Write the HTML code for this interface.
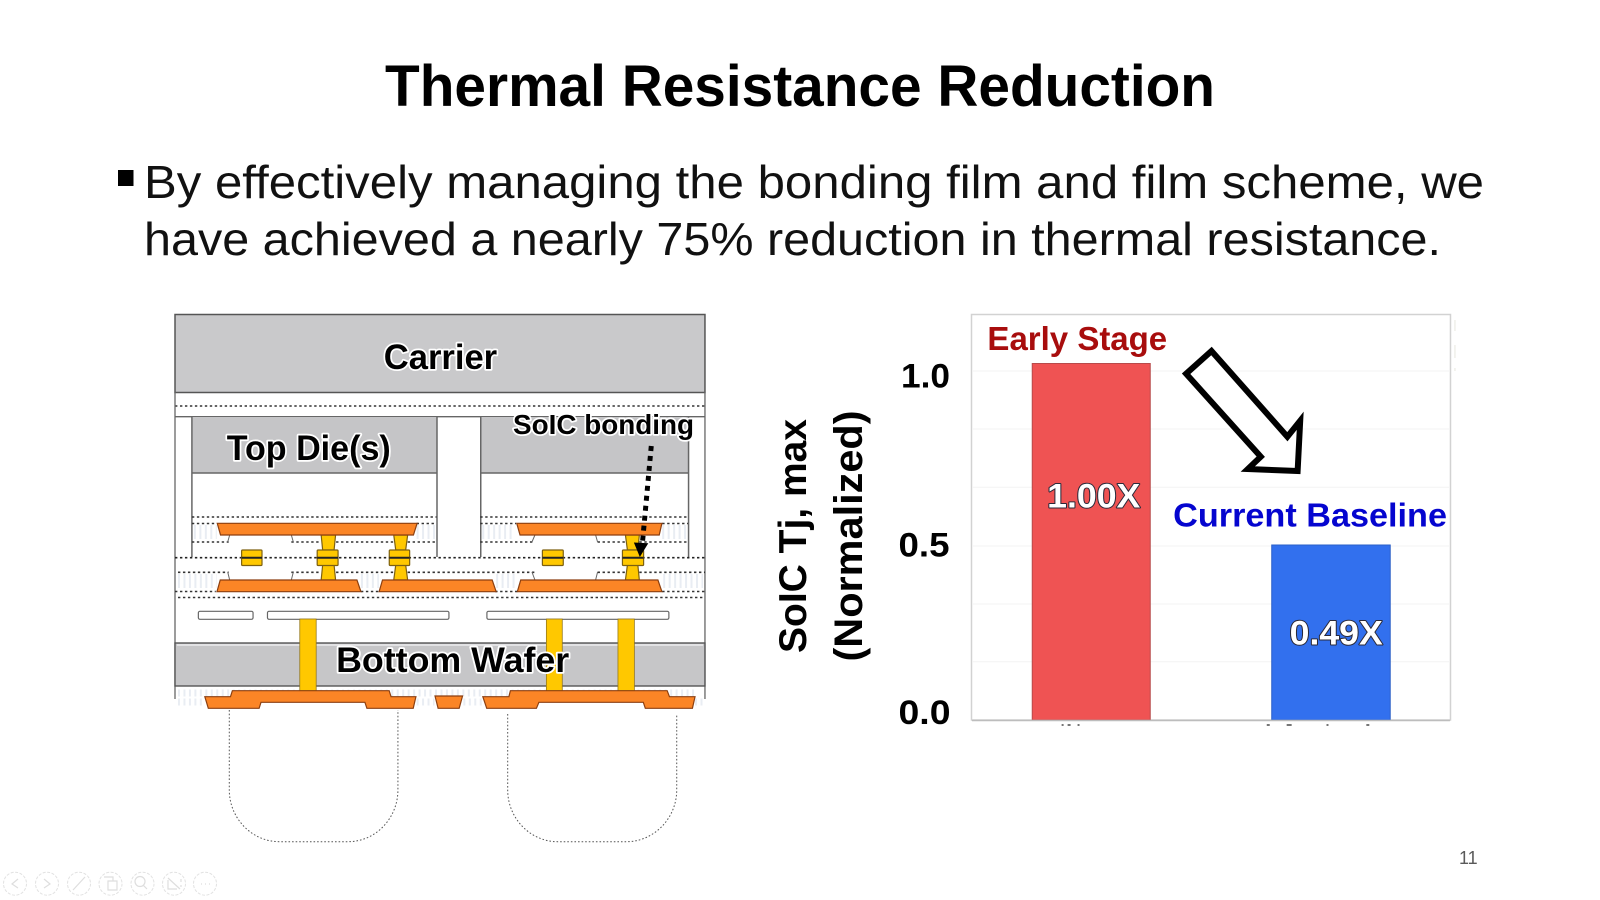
<!DOCTYPE html>
<html lang="en">
<head>
<meta charset="utf-8">
<title>Thermal Resistance Reduction</title>
<style>
html,body{margin:0;padding:0;background:#fff;width:1600px;height:900px;overflow:hidden}
svg{display:block;filter:blur(.35px)}
text{font-family:"Liberation Sans",sans-serif}
.d{stroke:#333;stroke-width:1.6;stroke-dasharray:2.4 2.6;fill:none}
.h{stroke:#e9edf3;stroke-width:14;stroke-dasharray:2 3.5;fill:none}
.o{fill:#fb8526;stroke:#8c3f10;stroke-width:1.2}
.y{fill:#ffc800;stroke:#7d6010;stroke-width:1.2}
.s{fill:none;stroke:#666;stroke-width:1.3}
.lab{font-weight:700;fill:#000;stroke:#fff;stroke-width:3.5;paint-order:stroke;stroke-linejoin:round}
.val{font-weight:700;fill:#fff;stroke:#2a2a3a;stroke-width:2;paint-order:stroke;stroke-linejoin:round}
.ic{fill:none;stroke:#e2e2e2;stroke-width:1;stroke-dasharray:3 1.5}
.ii{fill:none;stroke:#dedede;stroke-width:1.2}
</style>
</head>
<body>
<svg width="1600" height="900" viewBox="0 0 1600 900" xmlns="http://www.w3.org/2000/svg">
<rect width="1600" height="900" fill="#fff"/>

<!-- Heading -->
<text x="385" y="106" font-size="58" font-weight="700" textLength="830" lengthAdjust="spacingAndGlyphs">Thermal Resistance Reduction</text>
<rect x="118" y="170" width="15.5" height="16" fill="#000"/>
<text x="144" y="198" font-size="46" fill="#111" textLength="1340" lengthAdjust="spacingAndGlyphs">By effectively managing the bonding film and film scheme, we</text>
<text x="144" y="255" font-size="46" fill="#111" textLength="1297" lengthAdjust="spacingAndGlyphs">have achieved a nearly 75% reduction in thermal resistance.</text>

<!-- LEFT DIAGRAM -->
<g transform="translate(175 0) scale(.9943 1) translate(-175 0)">
<!-- hatch -->
<path class="h" d="M194 532H217M418 532H438M484 532H517M665 532H691M178 581H217M362 581H380M498 581H518M666 581H706"/>
<path class="h" style="stroke-width:7" d="M178 693H700M178 702H205M418 702H436M465 702H484M698 702H706"/>

<!-- carrier -->
<rect x="175" y="314.5" width="533" height="78" fill="#c9c9cb" stroke="#555" stroke-width="1.5"/>
<path class="d" d="M175 406H708"/>
<path class="s" d="M175 416.7H708M175 392V699M708 392V699"/>

<!-- dies -->
<rect x="192" y="417" width="246.5" height="56" fill="#c5c5c7"/>
<rect x="482.5" y="417" width="209" height="56" fill="#c5c5c7"/>
<path class="s" d="M192 417V557M438.5 417V557M482.5 417V557M691.5 417V557M192 473H438.5M482.5 473H691.5" style="stroke-width:1.5"/>

<!-- dotted layers -->
<path class="d" d="M192 517H438M482 517H691M192 523.5H216M418 523.5H438M482 523.5H518M665 523.5H691"/>
<path class="d" d="M192 542H229M292 542H322M337 542H396M409 542H438M482 542H537M600 542H628M642 542H691"/>
<path class="d" d="M175 557.7H708" style="stroke:#222"/>
<path class="d" d="M178 572.3H229M292 572.3H322M337 572.3H396M409 572.3H538M600 572.3H628M642 572.3H708"/>
<path class="d" d="M175 591.5H216M362 591.5H380M497 591.5H520M665 591.5H708M178 597.5H708"/>
<path class="s" d="M230 535L228 542M292 535L294 542M230 580L228 572M292 580L294 572M537 535L534 542M598 535L600 542M537 580L534 572M598 580L600 572" style="stroke-width:1"/>

<!-- posts and collars -->
<path class="y" d="M322 535H336.5L335 550H323.5ZM323.5 565H335L336.5 580H322Z"/>
<path class="y" d="M395 535H409L407 550H397ZM397 565H407L409 580H395Z"/>
<path class="y" d="M628 535H642L640.5 550H630ZM630 565H640.5L642 580H628Z"/>
<rect class="y" x="242" y="550" width="20.5" height="15.5" rx="1"/>
<rect class="y" x="318" y="550" width="21" height="15.5" rx="1"/>
<rect class="y" x="390.5" y="550" width="20.5" height="15.5" rx="1"/>
<rect class="y" x="544.5" y="550" width="21" height="15.5" rx="1"/>
<rect class="y" x="625" y="550" width="21.3" height="15.5" rx="1"/>
<path d="M242 557.7H262.5M318 557.7H339M390.5 557.7H411M544.5 557.7H565.5M625 557.7H646.3" stroke="#222" stroke-width="2" fill="none"/>

<!-- metal pads -->
<polygon class="o" points="217.5,523.3 418.5,523.3 414.8,535 220.8,535"/>
<polygon class="o" points="518.7,523.3 664.7,523.3 662,535 522,535"/>
<polygon class="o" points="220.5,580 358,580 362,591.7 217.2,591.7"/>
<polygon class="o" points="383.7,580 494,580 498,591.7 380.3,591.7"/>
<polygon class="o" points="522.7,580 660.7,580 664.7,591.7 519.3,591.7"/>

<!-- slabs -->
<rect x="198.5" y="611.3" width="55" height="8" rx="1.5" fill="#fff" stroke="#666" stroke-width="1.2"/>
<rect x="268" y="611.3" width="182.5" height="8" rx="1.5" fill="#fff" stroke="#666" stroke-width="1.2"/>
<rect x="488.7" y="611.3" width="183" height="8" rx="1.5" fill="#fff" stroke="#666" stroke-width="1.2"/>

<!-- bottom wafer -->
<rect x="175" y="643" width="533" height="43" fill="#c6c6c8" stroke="#555" stroke-width="1.4"/>
<path d="M177 645H706" stroke="#fff" stroke-width="1" fill="none"/>
<g>
<rect class="y" x="300.5" y="619" width="16.5" height="72" style="stroke:#96781a;stroke-width:.8"/>
<rect class="y" x="548.5" y="619" width="16" height="72" style="stroke:#96781a;stroke-width:.8"/>
<rect class="y" x="620.5" y="619" width="16.5" height="72" style="stroke:#96781a;stroke-width:.8"/>
</g>

<!-- RDL -->
<polygon class="o" points="232.7,690.7 390.4,690.7 392.3,696.7 417.3,696.7 414.6,708.3 368,708.3 366,702.3 261.5,702.3 259.6,708.3 208.5,708.3 205,696.7 230.8,696.7"/>
<polygon class="o" points="436.5,696 464.2,696 460.8,708.3 439.6,708.3"/>
<polygon class="o" points="512.3,690.7 670,690.7 672.3,696.7 698,696.7 695.4,708.3 648,708.3 646,702.3 541,702.3 538.5,708.3 488.5,708.3 484.6,696.7 510.8,696.7"/>

<!-- bumps -->
<path d="M229.6 710V790C229.6 818 252 841.7 280 841.7H349C377 841.7 399.2 818 399.2 790V710" fill="none" stroke="#555" stroke-width="1" stroke-dasharray="1.6 2"/>
<path d="M509.6 714V790C509.6 818 532 841.7 560 841.7H629C657 841.7 679.6 818 679.6 790V714" fill="none" stroke="#555" stroke-width="1" stroke-dasharray="1.6 2"/>

<!-- labels -->
<text class="lab" x="385" y="369" font-size="35" textLength="114" lengthAdjust="spacingAndGlyphs">Carrier</text>
<text class="lab" x="227" y="460" font-size="35" textLength="165" lengthAdjust="spacingAndGlyphs">Top Die(s)</text>
<text class="lab" x="337" y="672" font-size="35" textLength="234.5" lengthAdjust="spacingAndGlyphs">Bottom Wafer</text>
<text class="lab" x="515" y="434" font-size="28" textLength="182" lengthAdjust="spacingAndGlyphs">SoIC bonding</text>

<!-- dotted arrow -->
<path d="M654 446L645 544" stroke="#000" stroke-width="5" stroke-dasharray="5 5" fill="none"/>
<polygon points="636.5,542.5 651,543.3 642.5,557" fill="#000"/>
</g>

<!-- RIGHT CHART -->
<g transform="translate(971.5 0) scale(.9958 1) translate(-973.5 0)">
<rect x="973.5" y="314.5" width="481" height="405.5" fill="#fff" stroke="#d2d2d2" stroke-width="1.5"/>
<path d="M974 371H1454M974 429H1454M974 487.3H1454M974 546H1454M974 604H1454M974 661.7H1454" stroke="#f3f3f3" stroke-width="1" fill="none"/>
<path d="M1459 320V331M1459 345V358M1459 368V371" stroke="#e6e6e0" stroke-width="1" fill="none"/>
<rect x="1034.5" y="363.5" width="118.5" height="356.5" fill="#ef5353" stroke="#b84a4a" stroke-width="1"/>
<rect x="1275" y="545" width="119" height="175" fill="#3270ee" stroke="#2a5fc8" stroke-width="1"/>
<path d="M974 720.5H1454" stroke="#bdbdbd" stroke-width="1.4" fill="none"/>
<path d="M1064 725h2M1070 725h3M1080 725h2M1270 725h3M1290 725h5M1330 725h2M1370 725h3" stroke="#777" stroke-width="2" fill="none"/>

<text x="989.5" y="350" font-size="33" font-weight="700" fill="#a80d0d" textLength="180.5" lengthAdjust="spacingAndGlyphs">Early Stage</text>
<text x="1176" y="526.5" font-size="33" font-weight="700" fill="#0505cf" textLength="275" lengthAdjust="spacingAndGlyphs">Current Baseline</text>
<text class="val" x="1049.5" y="507.5" font-size="34" textLength="93.5" lengthAdjust="spacingAndGlyphs">1.00X</text>
<text class="val" x="1293" y="644.5" font-size="34" textLength="93.5" lengthAdjust="spacingAndGlyphs">0.49X</text>

<!-- hollow arrow -->
<polygon points="1214.5,351 1189,373.7 1264,456.7 1251,469 1301,471 1303.6,420.7 1290.7,436.7" fill="#fff" stroke="#000" stroke-width="6" stroke-linejoin="miter"/>
</g>

<text x="901" y="387.5" font-size="34" font-weight="700" textLength="49" lengthAdjust="spacingAndGlyphs">1.0</text>
<text x="898.5" y="556.5" font-size="34" font-weight="700" textLength="51" lengthAdjust="spacingAndGlyphs">0.5</text>
<text x="898.5" y="724" font-size="34" font-weight="700" textLength="52" lengthAdjust="spacingAndGlyphs">0.0</text>

<text transform="translate(806 653) rotate(-90)" font-size="39" font-weight="700" textLength="234" lengthAdjust="spacingAndGlyphs">SoIC Tj, max</text>
<text transform="translate(862 661.5) rotate(-90)" font-size="40" font-weight="700" textLength="251" lengthAdjust="spacingAndGlyphs">(Normalized)</text>

<!-- page number -->
<text x="1459" y="864" font-size="18" fill="#5a5a5a">11</text>

<!-- player controls -->
<circle class="ic" cx="15" cy="883.7" r="11.5"/>
<circle class="ic" cx="47" cy="883.7" r="11.5"/>
<circle class="ic" cx="79" cy="883.7" r="11.5"/>
<circle class="ic" cx="110.5" cy="883.7" r="11.5"/>
<circle class="ic" cx="142.5" cy="883.7" r="11.5"/>
<circle class="ic" cx="174" cy="883.7" r="11.5"/>
<circle class="ic" cx="205" cy="883.7" r="11.5"/>
<path class="ii" d="M18 879L12 884L18 888M44 879L50 884L44 888M73 890L85 877M104 877h9v4M108 881h9v9h-9zM147 889L143 885M168 878l12 11M168 880v9h9M181 879v3M181 885v2M201 884h1M205 884h1M209 884h1"/>
<circle class="ii" cx="140" cy="881.5" r="5"/>
</svg>
</body>
</html>
